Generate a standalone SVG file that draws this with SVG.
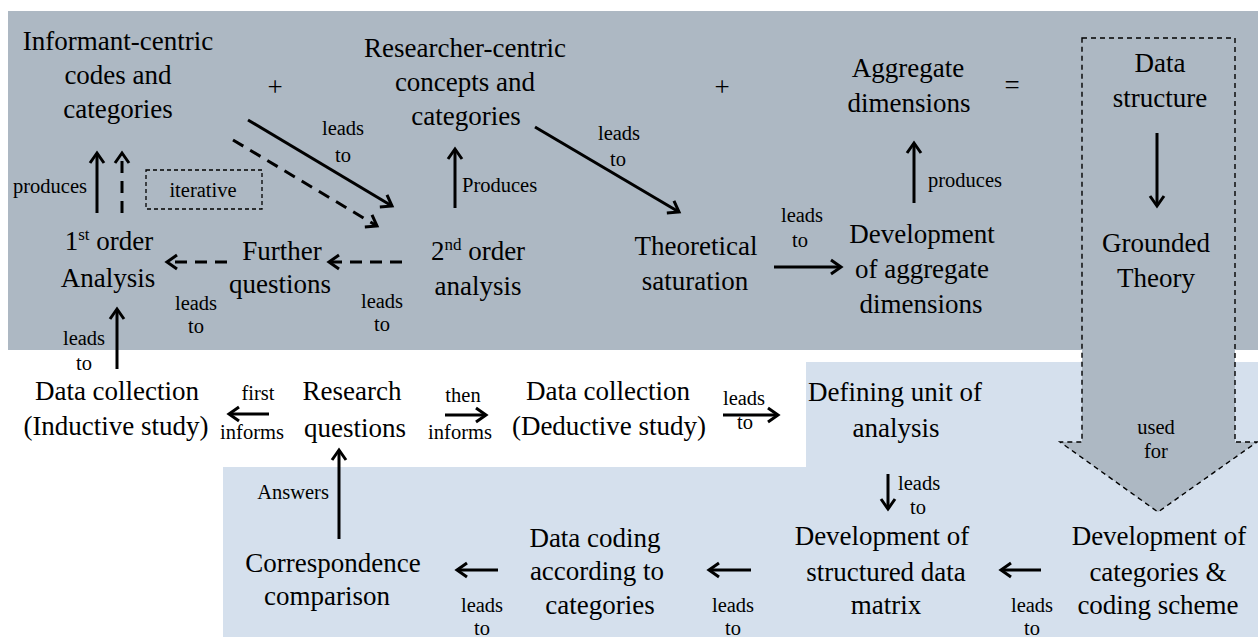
<svg xmlns="http://www.w3.org/2000/svg" width="1258" height="637" viewBox="0 0 1258 637">
  <style>
    text { fill: #000; }
    .n { font-size: 27px; text-anchor: middle; }
    .l { font-size: 20.5px; text-anchor: middle; }
    .ls { font-size: 20.5px; text-anchor: start; }
    .sup { font-size: 17px; }
    .c { stroke: #000; stroke-width: 3; fill: none; marker-end: url(#ah); }
    .d { stroke-dasharray: 12 8; }
  </style>
  <defs>
    <marker id="ah" viewBox="-14 -10 18 20" markerWidth="18" markerHeight="20" refX="0" refY="0" orient="auto" markerUnits="userSpaceOnUse" overflow="visible">
      <path d="M-10,-7 L0,0 L-10,7" fill="none" stroke="#000" stroke-width="3" stroke-linejoin="miter"/>
    </marker>
  </defs>

  <!-- background panels -->
  <rect x="0" y="0" width="1258" height="637" fill="#fff"/>
  <rect x="8" y="11" width="1250" height="339" fill="#adb8c3"/>
  <path d="M806,362 H1258 V637 H223 V467 H806 Z" fill="#d5e0ed"/>

  <g font-family="'Liberation Serif', 'DejaVu Serif', serif">
  <!-- data structure box turning into the "used for" arrow -->
  <g id="data-structure">
    <path d="M1082,38 H1235 V442 H1257 L1158,512 L1060,442 H1082 Z" fill="#adb8c3" stroke="#000" stroke-width="1.4" stroke-dasharray="5 4"/>
    <text class="n" x="1160" y="72">Data</text>
    <text class="n" x="1160" y="107">structure</text>
    <text class="n" x="1156" y="252">Grounded</text>
    <text class="n" x="1156" y="287">Theory</text>
    <text class="l" x="1156" y="434">used</text>
    <text class="l" x="1156" y="458">for</text>
  </g>

  <g id="informant-centric">
    <text class="n" x="118" y="50">Informant-centric</text>
    <text class="n" x="118" y="84">codes and</text>
    <text class="n" x="118" y="118">categories</text>
  </g>
  <g id="researcher-centric">
    <text class="n" x="465" y="57">Researcher-centric</text>
    <text class="n" x="465" y="91">concepts and</text>
    <text class="n" x="466" y="125">categories</text>
  </g>
  <g id="aggregate-dimensions">
    <text class="n" x="908" y="77">Aggregate</text>
    <text class="n" x="909" y="112">dimensions</text>
  </g>
  <g id="operators">
    <text class="n" x="275" y="96">+</text>
    <text class="n" x="722" y="96">+</text>
    <text class="n" x="1012" y="94">=</text>
  </g>
  <g id="first-order">
    <text class="n" x="109" y="250">1<tspan class="sup" dy="-10">st</tspan><tspan dy="10"> order</tspan></text>
    <text class="n" x="108" y="287">Analysis</text>
  </g>
  <g id="further-questions">
    <text class="n" x="282" y="260">Further</text>
    <text class="n" x="280" y="293">questions</text>
  </g>
  <g id="second-order">
    <text class="n" x="478" y="260">2<tspan class="sup" dy="-10">nd</tspan><tspan dy="10"> order</tspan></text>
    <text class="n" x="478" y="295">analysis</text>
  </g>
  <g id="theoretical-saturation">
    <text class="n" x="696" y="255">Theoretical</text>
    <text class="n" x="695" y="290">saturation</text>
  </g>
  <g id="development-aggregate">
    <text class="n" x="922" y="243">Development</text>
    <text class="n" x="922" y="278">of aggregate</text>
    <text class="n" x="921" y="313">dimensions</text>
  </g>
  <g id="iterative">
    <rect x="146" y="170" width="116" height="39" fill="none" stroke="#000" stroke-width="1.3" stroke-dasharray="4 3"/>
    <text class="l" x="203" y="197">iterative</text>
  </g>
  <g id="data-collection-inductive">
    <text class="n" x="117" y="400">Data collection</text>
    <text class="n" x="116" y="435">(Inductive study)</text>
  </g>
  <g id="research-questions">
    <text class="n" x="352" y="400">Research</text>
    <text class="n" x="355" y="437">questions</text>
  </g>
  <g id="data-collection-deductive">
    <text class="n" x="608" y="400">Data collection</text>
    <text class="n" x="609" y="435">(Deductive study)</text>
  </g>
  <g id="defining-unit">
    <text class="n" x="895" y="401">Defining unit of</text>
    <text class="n" x="896" y="437">analysis</text>
  </g>
  <g id="development-categories">
    <text class="n" x="1159" y="545">Development of</text>
    <text class="n" x="1158" y="581">categories &amp;</text>
    <text class="n" x="1158" y="614">coding scheme</text>
  </g>
  <g id="structured-matrix">
    <text class="n" x="882" y="545">Development of</text>
    <text class="n" x="886" y="581">structured data</text>
    <text class="n" x="886" y="614">matrix</text>
  </g>
  <g id="data-coding">
    <text class="n" x="595" y="547">Data coding</text>
    <text class="n" x="597" y="580">according to</text>
    <text class="n" x="600" y="614">categories</text>
  </g>
  <g id="correspondence">
    <text class="n" x="333" y="572">Correspondence</text>
    <text class="n" x="327" y="605">comparison</text>
  </g>

  <!-- connectors and their labels -->
  <g id="connectors">
    <line class="c" x1="97" y1="213" x2="97" y2="153"/>
    <line class="c d" x1="122" y1="213" x2="122" y2="153"/>
    <line class="c" x1="248" y1="120" x2="392" y2="206"/>
    <line class="c d" x1="233" y1="140" x2="377" y2="226"/>
    <line class="c d" x1="227" y1="262" x2="167" y2="262"/>
    <line class="c d" x1="402" y1="262" x2="329" y2="262"/>
    <line class="c" x1="117" y1="369" x2="117" y2="309"/>
    <line class="c" x1="455" y1="208" x2="455" y2="149"/>
    <line class="c" x1="535" y1="127" x2="679" y2="212"/>
    <line class="c" x1="774" y1="267" x2="841" y2="267"/>
    <line class="c" x1="914" y1="203" x2="914" y2="143"/>
    <line class="c" x1="1157" y1="133" x2="1157" y2="206"/>
    <line class="c" x1="269" y1="414" x2="229" y2="414"/>
    <line class="c" x1="445" y1="415" x2="486" y2="415"/>
    <line class="c" x1="723" y1="415" x2="778" y2="415"/>
    <line class="c" x1="339" y1="539" x2="339" y2="450"/>
    <line class="c" x1="888" y1="474" x2="888" y2="509"/>
    <line class="c" x1="1041" y1="570" x2="1001" y2="570"/>
    <line class="c" x1="751" y1="570" x2="709" y2="570"/>
    <line class="c" x1="498" y1="570" x2="457" y2="570"/>

    <text class="l" x="50" y="193">produces</text>
    <text class="l" x="343" y="135">leads</text>
    <text class="l" x="343" y="162">to</text>
    <text class="l" x="196" y="310">leads</text>
    <text class="l" x="196" y="333">to</text>
    <text class="l" x="382" y="308">leads</text>
    <text class="l" x="382" y="331">to</text>
    <text class="l" x="84" y="345">leads</text>
    <text class="l" x="84" y="370">to</text>
    <text class="ls" x="462" y="192">Produces</text>
    <text class="l" x="619" y="140">leads</text>
    <text class="l" x="618" y="166">to</text>
    <text class="l" x="802" y="222">leads</text>
    <text class="l" x="800" y="247">to</text>
    <text class="ls" x="928" y="187">produces</text>
    <text class="l" x="258" y="400">first</text>
    <text class="l" x="252" y="439">informs</text>
    <text class="l" x="463" y="402">then</text>
    <text class="l" x="460" y="439">informs</text>
    <text class="l" x="744" y="405">leads</text>
    <text class="l" x="745" y="429">to</text>
    <text class="l" x="293" y="499">Answers</text>
    <text class="ls" x="898" y="490">leads</text>
    <text class="l" x="918" y="514">to</text>
    <text class="l" x="482" y="612">leads</text>
    <text class="l" x="482" y="635">to</text>
    <text class="l" x="733" y="612">leads</text>
    <text class="l" x="733" y="635">to</text>
    <text class="l" x="1032" y="612">leads</text>
    <text class="l" x="1032" y="635">to</text>
  </g>
  </g>
</svg>
